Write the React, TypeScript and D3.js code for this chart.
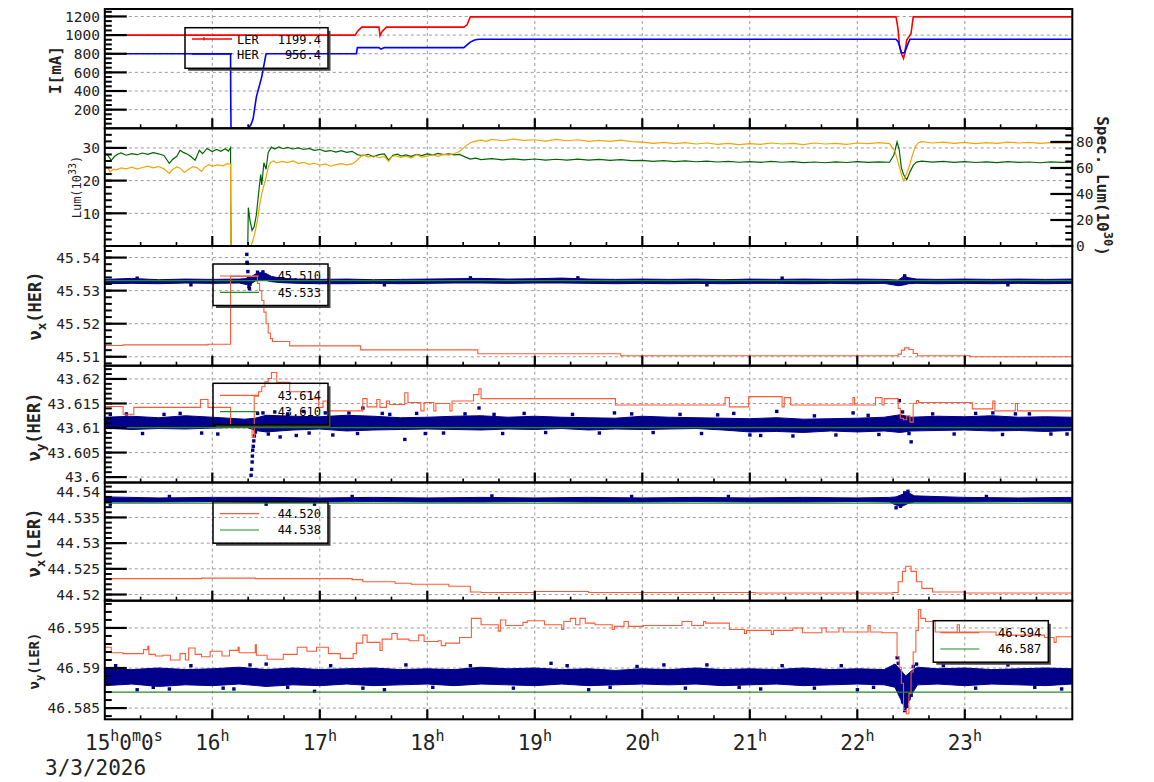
import React from 'react';
import * as d3 from 'd3';

type P = [number, number];
type B = [number, number, number];

// ---------- axes / ticks ----------
const hourTicks = [16, 17, 18, 19, 20, 21, 22, 23];
const currentTicks = [200, 400, 600, 800, 1000, 1200];
const lumTicks = [10, 20, 30];
const specLumTicks = [0, 20, 40, 60, 80];
const nuxHerTicks = [45.51, 45.52, 45.53, 45.54];
const nuyHerTicks = [43.6, 43.605, 43.61, 43.615, 43.62];
const nuxLerTicks = [44.52, 44.525, 44.53, 44.535, 44.54];
const nuyLerTicks = [46.585, 46.59, 46.595];
const dateLabel = '3/3/2026';

// ---------- panel 1 : beam currents ----------
const lerCurrent: P[] = [
  [15, 1000], [17.33, 1000], [17.35, 1040], [17.39, 1086], [17.55, 1086], [17.56, 995], [17.58, 1040], [17.62, 1086],
  [18.34, 1086], [18.37, 1110], [18.4, 1195], [22.36, 1195], [22.37, 1130], [22.38, 1054], [22.39, 911], [22.41, 803],
  [22.43, 750], [22.44, 800], [22.46, 947], [22.5, 1018], [22.52, 1195], [24, 1195],
];
const herCurrent: P[] = [
  [15, 800], [16.17, 800], [16.171, 410], [16.174, 0], [16.335, 0], [16.36, 40], [16.38, 104], [16.41, 337], [16.46, 552],
  [16.5, 800], [17.34, 800], [17.35, 866], [17.55, 866], [17.57, 850], [17.6, 866], [18.34, 866], [18.37, 895], [18.4, 925],
  [18.44, 948], [18.48, 956], [22.36, 956], [22.38, 930], [22.41, 810], [22.44, 812], [22.47, 903], [22.49, 956], [24, 956],
];
const currentLegend = [['LER', '1199.4'], ['HER', '956.4']];

// ---------- panel 2 : luminosity ----------
const lumOrange: P[] = [
  [15, 24.3], [15.03, 23.8], [15.05, 22.6], [15.08, 23.5], [15.1, 23.2], [15.15, 23.9], [15.2, 23.6], [15.25, 24.1], [15.3, 23.5],
  [15.35, 24.0], [15.4, 24.4], [15.45, 23.9], [15.5, 24.3], [15.55, 23.6], [15.6, 22.2], [15.63, 23.4], [15.67, 24.2], [15.7, 23.8],
  [15.74, 22.5], [15.78, 23.5], [15.82, 24.3], [15.86, 23.9], [15.9, 22.8], [15.93, 24.1], [15.97, 24.9], [16, 24.4], [16.05, 24.8],
  [16.1, 24.5], [16.14, 25.2], [16.17, 25.0], [16.172, 0], [16.36, 0], [16.38, 2], [16.4, 4.5], [16.42, 8], [16.44, 12.5],
  [16.46, 16], [16.48, 18.5], [16.5, 21], [16.52, 24], [16.54, 25.5], [16.57, 26.0], [16.6, 25.4], [16.65, 25.9], [16.7, 25.5],
  [16.75, 26.0], [16.8, 25.3], [16.85, 25.6], [16.9, 25.0], [16.95, 25.3], [17, 24.7], [17.05, 25.1], [17.1, 24.4], [17.15, 24.9],
  [17.2, 25.2], [17.25, 24.8], [17.3, 25.1], [17.34, 26.0], [17.37, 27.0], [17.4, 27.9], [17.45, 27.2], [17.5, 27.6], [17.55, 27.0],
  [17.6, 27.4], [17.64, 25.9], [17.67, 27.3], [17.7, 27.6], [17.75, 27.1], [17.8, 27.5], [17.85, 26.9], [17.9, 27.9], [17.95, 27.2],
  [18, 27.5], [18.05, 27.9], [18.1, 27.4], [18.15, 28.0], [18.2, 27.8], [18.25, 28.3], [18.3, 28.9], [18.35, 30.4], [18.4, 31.6],
  [18.45, 32.1], [18.5, 32.4], [18.55, 32.0], [18.6, 32.6], [18.7, 32.2], [18.8, 32.7], [18.9, 32.3], [19, 32.5], [19.1, 32.1],
  [19.2, 32.6], [19.3, 32.2], [19.4, 32.5], [19.5, 32.0], [19.6, 32.3], [19.7, 32.0], [19.8, 32.4], [19.9, 31.9], [20, 31.8],
  [20.1, 31.4], [20.2, 31.7], [20.3, 31.3], [20.4, 31.6], [20.5, 31.2], [20.6, 31.5], [20.7, 31.1], [20.8, 31.4], [20.9, 31.0],
  [21, 31.3], [21.1, 31.1], [21.2, 31.5], [21.3, 31.2], [21.4, 31.4], [21.5, 31.0], [21.6, 31.5], [21.7, 31.2], [21.8, 31.4],
  [21.9, 31.1], [22, 31.5], [22.1, 31.3], [22.2, 31.6], [22.3, 31.3], [22.35, 29.0], [22.38, 25.5], [22.41, 22.0], [22.43, 20.0],
  [22.45, 21.5], [22.48, 24.0], [22.51, 27.5], [22.54, 30.5], [22.57, 31.6], [22.6, 31.9], [22.7, 31.5], [22.8, 31.8], [22.9, 31.4],
  [23, 31.7], [23.1, 31.3], [23.2, 31.6], [23.3, 31.4], [23.4, 31.8], [23.5, 31.5], [23.6, 31.7], [23.7, 31.4], [23.8, 31.6],
  [23.9, 31.5], [24, 31.6],
];
const specLumGreen: P[] = [
  [15, 71.3], [15.03, 69.5], [15.06, 65.9], [15.09, 68.8], [15.12, 70.5], [15.15, 71.6], [15.2, 69.8], [15.25, 71.0], [15.3, 70.2],
  [15.35, 71.5], [15.4, 70.4], [15.45, 71.8], [15.5, 70.9], [15.55, 69.6], [15.6, 63.6], [15.63, 66.5], [15.67, 69.0], [15.7, 73.6],
  [15.73, 72.0], [15.77, 70.5], [15.8, 68.8], [15.84, 65.9], [15.88, 73.6], [15.91, 71.0], [15.95, 75.0], [16, 72.6], [16.04, 74.2],
  [16.08, 72.8], [16.12, 74.8], [16.15, 73.0], [16.17, 75.6], [16.171, 37.5], [16.174, 0], [16.33, 0], [16.335, 29.5], [16.35, 20],
  [16.37, 12], [16.39, 15], [16.41, 24], [16.43, 40], [16.45, 55], [16.46, 47], [16.48, 64], [16.5, 59], [16.52, 72], [16.55, 76],
  [16.58, 74.5], [16.62, 76.2], [16.66, 74.8], [16.7, 75.8], [16.75, 74.6], [16.8, 75.5], [16.85, 74.2], [16.9, 75.0], [16.95, 73.6],
  [17, 74.2], [17.05, 72.8], [17.1, 73.4], [17.15, 72.2], [17.2, 73.3], [17.25, 72.0], [17.3, 72.8], [17.35, 70.3], [17.4, 69.4],
  [17.45, 70.5], [17.5, 68.6], [17.55, 70.2], [17.6, 70.8], [17.64, 66.0], [17.68, 69.8], [17.72, 70.6], [17.76, 69.2], [17.8, 70.1],
  [17.85, 69.0], [17.9, 70.4], [17.95, 69.5], [18, 70.8], [18.05, 70.0], [18.1, 71.2], [18.15, 70.3], [18.2, 70.9], [18.25, 70.0],
  [18.3, 70.4], [18.35, 68.5], [18.4, 66.8], [18.45, 67.5], [18.5, 66.4], [18.6, 67.2], [18.7, 66.3], [18.8, 67.0], [18.9, 66.2],
  [19, 66.9], [19.1, 66.0], [19.2, 66.7], [19.3, 66.1], [19.4, 66.8], [19.5, 66.0], [19.6, 66.6], [19.7, 65.8], [19.8, 66.4],
  [19.9, 65.6], [20, 65.9], [20.1, 65.1], [20.2, 65.6], [20.3, 64.9], [20.4, 65.5], [20.5, 64.8], [20.6, 65.3], [20.7, 64.6],
  [20.8, 65.1], [20.9, 64.4], [21, 64.9], [21.1, 64.3], [21.2, 65.0], [21.3, 64.4], [21.4, 64.8], [21.5, 64.1], [21.6, 64.6],
  [21.7, 64.0], [21.8, 64.7], [21.9, 64.2], [22, 64.8], [22.1, 64.3], [22.2, 64.7], [22.3, 64.4], [22.34, 70], [22.37, 80],
  [22.39, 74], [22.41, 60], [22.43, 55], [22.46, 51], [22.49, 57], [22.52, 62], [22.55, 64.5], [22.6, 65.2], [22.7, 64.5],
  [22.8, 65.0], [22.9, 64.3], [23, 64.9], [23.1, 64.2], [23.2, 64.7], [23.3, 64.1], [23.4, 64.8], [23.5, 64.3], [23.6, 64.6],
  [23.7, 64.0], [23.8, 64.7], [23.9, 64.3], [24, 64.5],
];

// ---------- panel 3 : nu_x HER ----------
const nuxHerSet: P[] = [
  [15, 45.5134], [15.17, 45.5136], [15.96, 45.5138], [16.17, 45.5343], [16.4, 45.5343], [16.42, 45.5322], [16.44, 45.53],
  [16.46, 45.527], [16.48, 45.5235], [16.5, 45.52], [16.52, 45.5172], [16.54, 45.5155], [16.56, 45.5146], [16.72, 45.5133],
  [17.38, 45.5121], [18.47, 45.5109], [19.8, 45.5103], [22.38, 45.5108], [22.41, 45.512], [22.44, 45.5127], [22.48, 45.5122],
  [22.52, 45.511], [22.56, 45.5103], [23.05, 45.51], [24, 45.51],
];
const nuxHerRef = 45.533;
const nuxHerBand: B[] = [
  [15, 45.5321, 45.5334], [15.25, 45.5322, 45.5337], [15.5, 45.5321, 45.5333], [15.75, 45.5323, 45.5335], [16, 45.5322, 45.5334],
  [16.25, 45.5323, 45.5335], [16.34, 45.5317, 45.5337], [16.4, 45.5329, 45.535], [16.45, 45.5333, 45.5355], [16.5, 45.5331, 45.5352],
  [16.55, 45.5327, 45.5343], [16.65, 45.5324, 45.5337], [16.8, 45.5322, 45.5335], [17, 45.5321, 45.5334], [17.25, 45.5321, 45.5335],
  [17.5, 45.5322, 45.5333], [17.75, 45.5321, 45.5334], [18, 45.5322, 45.5335], [18.25, 45.5323, 45.5336], [18.5, 45.5323, 45.5337],
  [18.75, 45.5322, 45.5335], [19, 45.5323, 45.5336], [19.25, 45.5323, 45.5338], [19.5, 45.5322, 45.5335], [19.75, 45.5321, 45.5334],
  [20, 45.5322, 45.5335], [20.25, 45.5321, 45.5334], [20.5, 45.5322, 45.5335], [20.75, 45.5321, 45.5333], [21, 45.5322, 45.5335],
  [21.25, 45.5322, 45.5334], [21.5, 45.5321, 45.5335], [21.75, 45.5322, 45.5334], [22, 45.5321, 45.5335], [22.25, 45.5322, 45.5334],
  [22.38, 45.5315, 45.5332], [22.43, 45.5317, 45.5343], [22.48, 45.5321, 45.5339], [22.55, 45.5322, 45.5335], [22.75, 45.5321, 45.5334],
  [23, 45.5322, 45.5335], [23.25, 45.5321, 45.5334], [23.5, 45.5322, 45.5335], [23.75, 45.5321, 45.5334], [24, 45.5322, 45.5335],
];
const nuxHerDots: P[] = [
  [16.32, 45.541], [16.322, 45.5386], [16.325, 45.5383], [16.33, 45.5358], [16.335, 45.534], [16.34, 45.5312], [16.345, 45.5306],
  [16.35, 45.532], [16.42, 45.5356], [16.47, 45.5357], [19.4, 45.5339], [22.44, 45.5345], [15.3, 45.5338], [15.8, 45.5318],
  [17.6, 45.5318], [18.4, 45.5339], [20.6, 45.5318], [21.3, 45.5338], [23.4, 45.5318],
];

// ---------- panel 4 : nu_y HER ----------
const nuyHerSet: P[] = [
  [15, 43.6144], [15.17, 43.6128], [15.27, 43.6142], [15.89, 43.6158], [15.96, 43.6142], [16.17, 43.6103], [16.37, 43.6081],
  [16.39, 43.6165], [16.43, 43.6174], [16.46, 43.6184], [16.49, 43.6194], [16.52, 43.6201], [16.55, 43.6213], [16.6, 43.6193],
  [16.72, 43.6174], [16.92, 43.616], [16.99, 43.6142], [17.03, 43.6155], [17.07, 43.6135], [17.4, 43.616], [17.44, 43.6143],
  [17.53, 43.6158], [17.56, 43.6142], [17.62, 43.6155], [17.65, 43.6148], [17.79, 43.6172], [17.82, 43.6152], [17.94, 43.6135],
  [17.97, 43.6152], [18.06, 43.6135], [18.08, 43.615], [18.21, 43.6135], [18.23, 43.6155], [18.43, 43.6168], [18.48, 43.618],
  [18.5, 43.616], [19.75, 43.6147], [20.77, 43.6162], [20.81, 43.6143], [20.99, 43.6164], [21.3, 43.6143], [21.32, 43.6162],
  [21.38, 43.6147], [21.96, 43.6162], [21.975, 43.6147], [22.17, 43.6162], [22.23, 43.6147], [22.25, 43.616], [22.38, 43.614],
  [22.4, 43.612], [22.43, 43.6117], [22.46, 43.6125], [22.49, 43.6112], [22.52, 43.615], [22.55, 43.6156], [22.57, 43.6152],
  [23.07, 43.6139], [23.26, 43.6155], [23.28, 43.6135], [23.47, 43.615], [23.49, 43.6135], [24, 43.6135],
];
const nuyHerRef = 43.6101;
const nuyHerBand: B[] = [
  [15, 43.61, 43.6122], [15.25, 43.6097, 43.6124], [15.5, 43.6099, 43.6121], [15.75, 43.6098, 43.6125], [16, 43.61, 43.6122],
  [16.15, 43.6101, 43.612], [16.3, 43.6103, 43.6118], [16.4, 43.6095, 43.612], [16.5, 43.6092, 43.6126], [16.75, 43.6096, 43.6124],
  [17, 43.6098, 43.6123], [17.25, 43.6094, 43.6126], [17.5, 43.6096, 43.6124], [17.75, 43.6097, 43.6121], [18, 43.6098, 43.6122],
  [18.25, 43.6097, 43.6124], [18.5, 43.6096, 43.6125], [18.75, 43.6098, 43.6122], [19, 43.6097, 43.6124], [19.25, 43.6099, 43.6122],
  [19.5, 43.6096, 43.6121], [19.75, 43.6098, 43.612], [20, 43.6097, 43.6124], [20.25, 43.6098, 43.6122], [20.5, 43.6099, 43.6121],
  [20.75, 43.6096, 43.612], [21, 43.6092, 43.6119], [21.25, 43.6093, 43.6121], [21.5, 43.6091, 43.6118], [21.75, 43.6094, 43.6119],
  [22, 43.6092, 43.612], [22.25, 43.6094, 43.6122], [22.4, 43.6091, 43.6127], [22.5, 43.6094, 43.6122], [22.75, 43.6095, 43.6124],
  [23, 43.6096, 43.6123], [23.25, 43.6094, 43.6125], [23.5, 43.6095, 43.6122], [23.75, 43.6093, 43.6123], [24, 43.6095, 43.6122],
];
const nuyHerDots: P[] = [
  [15.0, 43.6091], [15.05, 43.6128], [15.55, 43.6128], [15.9, 43.609], [16.36, 43.6004], [16.365, 43.6016], [16.37, 43.6031],
  [16.372, 43.6043], [16.375, 43.6055], [16.38, 43.6063], [16.385, 43.6074], [16.39, 43.6084], [16.4, 43.6092], [16.42, 43.613],
  [16.47, 43.6131], [16.52, 43.6088], [16.58, 43.6133], [16.63, 43.6082], [16.7, 43.6129], [16.78, 43.6085], [16.85, 43.6134],
  [17.12, 43.6086], [17.27, 43.6131], [17.4, 43.6141], [17.58, 43.613], [17.79, 43.6077], [17.98, 43.6089], [18.48, 43.6141],
  [18.62, 43.6128], [19.74, 43.6131], [20.85, 43.613], [21.0, 43.6086], [21.25, 43.6134], [21.96, 43.6131], [22.39, 43.6156],
  [22.42, 43.6133], [22.46, 43.6098], [22.48, 43.6089], [22.5, 43.6072], [23.26, 43.6131], [23.47, 43.6129], [23.8, 43.6088],
  [15.2, 43.6129], [15.35, 43.6089], [15.7, 43.613], [16.05, 43.6088], [16.9, 43.609], [17.05, 43.6131], [17.35, 43.6089],
  [17.65, 43.6128], [17.9, 43.613], [18.15, 43.609], [18.35, 43.6129], [18.7, 43.6089], [18.9, 43.613], [19.1, 43.6091],
  [19.35, 43.6128], [19.6, 43.609], [19.9, 43.6129], [20.1, 43.6091], [20.35, 43.6128], [20.55, 43.6089], [20.7, 43.6127],
  [21.1, 43.6085], [21.4, 43.6084], [21.6, 43.6125], [21.8, 43.6086], [22.1, 43.6126], [22.2, 43.6087], [22.7, 43.6129],
  [22.9, 43.6088], [23.1, 43.613], [23.35, 43.6087], [23.6, 43.6129], [23.95, 43.6088],
];

// ---------- panel 5 : nu_x LER ----------
const nuxLerSet: P[] = [
  [15, 44.5231], [15.9, 44.5232], [16.4, 44.5231], [17.3, 44.5229], [17.4, 44.5225], [17.7, 44.5222], [17.85, 44.522],
  [18.2, 44.5216], [18.4, 44.5205], [18.5, 44.5204], [19.0, 44.5206], [19.5, 44.5204], [21.05, 44.5203], [22.33, 44.5204],
  [22.38, 44.5225], [22.42, 44.5245], [22.45, 44.5255], [22.5, 44.5245], [22.55, 44.5225], [22.6, 44.5212], [22.7, 44.5205],
  [23, 44.5203], [24, 44.5203],
];
const nuxLerRef = 44.5378;
const nuxLerBand: B[] = [
  [15, 44.538, 44.539], [15.5, 44.538, 44.5388], [16, 44.5381, 44.5389], [16.5, 44.538, 44.5389], [17, 44.538, 44.5388],
  [17.5, 44.5381, 44.5389], [18, 44.538, 44.5388], [18.5, 44.538, 44.5389], [19, 44.5381, 44.5388], [19.5, 44.538, 44.5389],
  [20, 44.538, 44.5388], [20.5, 44.5381, 44.5389], [21, 44.538, 44.5388], [21.5, 44.538, 44.5389], [22, 44.5381, 44.5388],
  [22.3, 44.538, 44.5389], [22.36, 44.5374, 44.539], [22.42, 44.5372, 44.5395], [22.47, 44.5377, 44.5399], [22.53, 44.538, 44.5392],
  [23, 44.538, 44.5389], [23.5, 44.5381, 44.5388], [24, 44.538, 44.5389],
];
const nuxLerDots: P[] = [
  [15.05, 44.5376], [16.5, 44.5376], [16.95, 44.5376], [18.6, 44.5392], [19.9, 44.5391], [22.36, 44.5369], [22.4, 44.5372],
  [22.44, 44.5398], [22.47, 44.5401], [15.6, 44.5391], [17.3, 44.5391], [20.8, 44.5391], [23.2, 44.5391],
];

// ---------- panel 6 : nu_y LER ----------
const nuyLerSet: P[] = [
  [15, 46.5926], [15.06, 46.5919], [15.17, 46.5918], [15.36, 46.5923], [15.4, 46.5927], [15.41, 46.5917], [15.47, 46.5915],
  [15.54, 46.5916], [15.61, 46.591], [15.7, 46.5918], [15.75, 46.591], [15.78, 46.5925], [15.84, 46.5917], [15.9, 46.5914],
  [15.98, 46.5921], [16.09, 46.5915], [16.16, 46.5922], [16.24, 46.5926], [16.25, 46.5919], [16.4, 46.5929], [16.41, 46.5916],
  [16.51, 46.5911], [16.66, 46.5917], [16.79, 46.5926], [16.88, 46.5921], [16.97, 46.5926], [17.08, 46.5918], [17.19, 46.5912],
  [17.31, 46.5918], [17.34, 46.5931], [17.4, 46.5941], [17.44, 46.5932], [17.56, 46.5922], [17.58, 46.5936], [17.67, 46.5943],
  [17.72, 46.5936], [17.83, 46.5934], [17.92, 46.5941], [17.97, 46.5933], [18.1, 46.5934], [18.13, 46.5928], [18.17, 46.5931],
  [18.3, 46.5938], [18.41, 46.5962], [18.5, 46.5954], [18.66, 46.5946], [18.68, 46.596], [18.73, 46.5953], [18.89, 46.5957],
  [18.93, 46.5959], [19.09, 46.5954], [19.25, 46.5948], [19.27, 46.5958], [19.33, 46.5962], [19.38, 46.5954], [19.42, 46.5962],
  [19.47, 46.5956], [19.56, 46.5954], [19.72, 46.5948], [19.74, 46.5952], [19.83, 46.5958], [19.87, 46.5952], [20.01, 46.5953],
  [20.37, 46.5958], [20.46, 46.5953], [20.57, 46.5958], [20.59, 46.5956], [20.81, 46.5948], [20.95, 46.5943], [20.97, 46.5947],
  [21.2, 46.5942], [21.22, 46.5947], [21.4, 46.595], [21.49, 46.5944], [21.67, 46.595], [21.71, 46.5945], [21.83, 46.595],
  [21.87, 46.5945], [22.1, 46.5953], [22.12, 46.5945], [22.23, 46.5944], [22.37, 46.5914], [22.39, 46.5901], [22.41, 46.5881],
  [22.43, 46.5847], [22.456, 46.5843], [22.48, 46.5868], [22.5, 46.5895], [22.52, 46.592], [22.545, 46.5947], [22.568, 46.5973],
  [22.59, 46.5962], [22.635, 46.5958], [22.725, 46.5945], [22.93, 46.5954], [22.95, 46.5945], [23.29, 46.5941], [23.74, 46.5938],
  [23.83, 46.5932], [23.85, 46.5939], [24, 46.5939],
];
const nuyLerRef = 46.587;
const nuyLerBand: B[] = [
  [15, 46.5878, 46.5899], [15.25, 46.588, 46.5898], [15.5, 46.5877, 46.59], [15.75, 46.5879, 46.5898], [16, 46.5878, 46.5899],
  [16.25, 46.588, 46.5901], [16.5, 46.5877, 46.5898], [16.75, 46.5879, 46.59], [17, 46.5878, 46.5898], [17.25, 46.588, 46.5899],
  [17.5, 46.5878, 46.59], [17.75, 46.5879, 46.5898], [18, 46.588, 46.5899], [18.25, 46.5878, 46.5898], [18.5, 46.588, 46.5901],
  [18.75, 46.5879, 46.5899], [19, 46.5878, 46.59], [19.25, 46.588, 46.5898], [19.5, 46.5878, 46.5899], [19.75, 46.5879, 46.5897],
  [20, 46.588, 46.5899], [20.25, 46.5879, 46.5898], [20.5, 46.588, 46.59], [20.75, 46.5878, 46.5898], [21, 46.5879, 46.5899],
  [21.25, 46.588, 46.5898], [21.5, 46.5878, 46.59], [21.75, 46.5879, 46.5898], [22, 46.588, 46.5899], [22.25, 46.5879, 46.5898],
  [22.35, 46.5876, 46.5905], [22.4, 46.5862, 46.5898], [22.45, 46.5848, 46.589], [22.5, 46.5866, 46.5896], [22.56, 46.5879, 46.5901],
  [22.75, 46.588, 46.5899], [23, 46.5878, 46.59], [23.25, 46.588, 46.5898], [23.5, 46.5879, 46.5899], [23.75, 46.5878, 46.59],
  [24, 46.588, 46.5899],
];
const nuyLerDots: P[] = [
  [15.3, 46.5873], [15.6, 46.5874], [16.2, 46.5874], [16.5, 46.5905], [16.95, 46.5871], [17.6, 46.5873], [19.15, 46.5906],
  [19.5, 46.5873], [20.2, 46.5904], [21.1, 46.5874], [22.0, 46.5873], [22.37, 46.5913], [22.38, 46.5906], [22.42, 46.5858],
  [22.44, 46.5847], [22.46, 46.5852], [22.48, 46.5862], [22.5, 46.5866], [22.52, 46.5902], [22.55, 46.5905], [23.9, 46.5874],
  [15.1, 46.5903], [15.45, 46.5876], [15.8, 46.5903], [16.1, 46.5875], [16.35, 46.5904], [16.7, 46.5876], [17.1, 46.5903],
  [17.4, 46.5875], [17.8, 46.5904], [18.05, 46.5876], [18.4, 46.5903], [18.8, 46.5875], [19.3, 46.5903], [19.7, 46.5876],
  [19.95, 46.5902], [20.4, 46.5875], [20.6, 46.5904], [20.9, 46.5876], [21.3, 46.5903], [21.6, 46.5875], [21.85, 46.5903],
  [22.15, 46.5876], [22.8, 46.5903], [23.1, 46.5875], [23.4, 46.5904], [23.65, 46.5876],
];

const tuneLegendValues = [
  ['45.510', '45.533'],
  ['43.614', '43.610'],
  ['44.520', '44.538'],
  ['46.594', '46.587'],
];

// ---------- styling ----------
const FONT = 'DejaVu Sans Mono';
const RED_I = '#ff0000';
const BLUE_I = '#0000ff';
const ORANGE = '#f0a500';
const DKGREEN = '#006400';
const TUNE_RED = '#ff5a36';
const REF_GREEN = '#1f8f1f';
const NAVY = '#00008b';

const X0 = 104.8;
const X1 = 1072.3;
const bounds = [9, 128.3, 246, 365.7, 482.5, 600.7, 719.3];

const fmt = (v: number) => String(+v.toFixed(4));

function minorTicks(domain: number[], step: number) {
  const out: number[] = [];
  const start = Math.ceil(domain[0] / step - 1e-9);
  for (let i = start; i * step <= domain[1] + 1e-12; i++) out.push(i * step);
  return out;
}

export default function App() {
  const x = d3.scaleLinear().domain([15, 24]).range([X0, X1]);
  const yI = d3.scaleLinear().domain([0, 1280]).range([bounds[1], bounds[0]]);
  const yLum = d3.scaleLinear().domain([0, 36]).range([bounds[2], bounds[1]]);
  const ySpec = d3.scaleLinear().domain([0, 90.5]).range([bounds[2], bounds[1]]);
  const yNxH = d3.scaleLinear().domain([45.5073, 45.5435]).range([bounds[3], bounds[2]]);
  const yNyH = d3.scaleLinear().domain([43.5989, 43.6227]).range([bounds[4], bounds[3]]);
  const yNxL = d3.scaleLinear().domain([44.5188, 44.5418]).range([bounds[5], bounds[4]]);
  const yNyL = d3.scaleLinear().domain([46.5836, 46.5984]).range([bounds[6], bounds[5]]);

  const lineOf = (y: d3.ScaleLinear<number, number>, curve: d3.CurveFactory = d3.curveLinear) =>
    d3.line<P>().x((d) => x(d[0])).y((d) => y(d[1])).curve(curve);
  const bandOf = (y: d3.ScaleLinear<number, number>) =>
    d3.area<B>().x((d) => x(d[0])).y0((d) => y(d[1])).y1((d) => y(d[2])).curve(d3.curveLinear);

  const minorX = minorTicks([15, 24], 1 / 3);

  const panels = [
    { y: yI, ticks: currentTicks, minor: 50 },
    { y: yLum, ticks: lumTicks, minor: 2 },
    { y: yNxH, ticks: nuxHerTicks, minor: 0.002 },
    { y: yNyH, ticks: nuyHerTicks, minor: 0.001 },
    { y: yNxL, ticks: nuxLerTicks, minor: 0.001 },
    { y: yNyL, ticks: nuyLerTicks, minor: 0.001 },
  ];

  const tunes = [
    { y: yNxH, set: nuxHerSet, ref: nuxHerRef, band: nuxHerBand, dots: nuxHerDots },
    { y: yNyH, set: nuyHerSet, ref: nuyHerRef, band: nuyHerBand, dots: nuyHerDots },
    { y: yNxL, set: nuxLerSet, ref: nuxLerRef, band: nuxLerBand, dots: nuxLerDots },
    { y: yNyL, set: nuyLerSet, ref: nuyLerRef, band: nuyLerBand, dots: nuyLerDots },
  ];
  const tuneLegendBoxes = [
    [213, 264],
    [213, 383.3],
    [213, 501.7],
    [933.3, 620.7],
  ];

  const Legend = ({ bx, by, w, h, children }: any) => (
    <g>
      <path
        d={`M${bx + w + 1.5},${by + 3} V${by + h + 1.5} H${bx + 3}`}
        fill="none"
        stroke="#444"
        strokeWidth={2}
      />
      <rect x={bx} y={by} width={w} height={h} fill="none" stroke="#000" strokeWidth={1.5} />
      {children}
    </g>
  );

  return (
    <svg
      width={1154}
      height={782}
      style={{ position: 'absolute', left: 0, top: 0, background: '#fff' }}
      fontFamily={FONT}
    >
      <defs>
        {panels.map((p, i) => (
          <clipPath id={`clip${i}`} key={i}>
            <rect x={X0} y={bounds[i]} width={X1 - X0} height={bounds[i + 1] - bounds[i]} />
          </clipPath>
        ))}
      </defs>
      <rect x={0} y={0} width={1154} height={782} fill="#fff" />

      {/* grids */}
      {panels.map((p, i) => (
        <g key={'g' + i} stroke="#9a9a9a" strokeWidth={1} strokeDasharray="3,3" fill="none">
          {p.ticks
            .filter((t) => p.y(t) > bounds[i] + 1 && p.y(t) < bounds[i + 1] - 1)
            .map((t) => (
              <line key={t} x1={X0} x2={X1} y1={p.y(t)} y2={p.y(t)} />
            ))}
          {hourTicks.map((h) => (
            <line key={'v' + h} x1={x(h)} x2={x(h)} y1={bounds[i]} y2={bounds[i + 1]} />
          ))}
        </g>
      ))}

      {/* panel 1 data */}
      <g clipPath="url(#clip0)" fill="none" strokeWidth={1.6}>
        <path d={lineOf(yI)(lerCurrent) || ''} stroke={RED_I} />
        <path d={lineOf(yI)(herCurrent) || ''} stroke={BLUE_I} />
      </g>

      {/* panel 2 data */}
      <g clipPath="url(#clip1)" fill="none" strokeWidth={1.2}>
        <path d={lineOf(ySpec)(specLumGreen) || ''} stroke={DKGREEN} />
        <path d={lineOf(yLum)(lumOrange) || ''} stroke={ORANGE} />
      </g>

      {/* tune panels data */}
      {tunes.map((t, k) => (
        <g key={'t' + k} clipPath={`url(#clip${k + 2})`}>
          <path d={bandOf(t.y)(t.band) || ''} fill={NAVY} stroke={NAVY} strokeWidth={1} />
          {t.dots.map((d, j) => (
            <rect key={j} x={x(d[0]) - 1.6} y={t.y(d[1]) - 1.6} width={3.4} height={3.4} fill={NAVY} />
          ))}
          <path d={lineOf(t.y, d3.curveStepAfter)(t.set) || ''} fill="none" stroke={TUNE_RED} strokeWidth={1.1} />
          <line x1={X0} x2={X1} y1={t.y(t.ref)} y2={t.y(t.ref)} stroke={REF_GREEN} strokeWidth={1.2} />
        </g>
      ))}

      {/* legends */}
      <Legend bx={185} by={27.7} w={143} h={40.6}>
        {currentLegend.map((r, i) => (
          <g key={r[0]}>
            <line x1={192} x2={232} y1={39 + i * 15} y2={39 + i * 15} stroke={i === 0 ? RED_I : BLUE_I} strokeWidth={1.5} />
            {i === 0 && <line x1={204} x2={204} y1={37} y2={40.5} stroke={RED_I} strokeWidth={1.2} />}
            <text x={237} y={43.5 + i * 15.5} fontSize={12} fill="#000">
              {r[0]}
            </text>
            <text x={321} y={43.5 + i * 15.5} fontSize={12} fill="#000" textAnchor="end">
              {r[1]}
            </text>
          </g>
        ))}
      </Legend>
      {tuneLegendValues.map((vals, k) => {
        const [bx, by] = tuneLegendBoxes[k];
        return (
          <Legend key={'lg' + k} bx={bx} by={by} w={115} h={41.5}>
            {vals.map((v, i) => (
              <g key={i}>
                <line
                  x1={bx + 7}
                  x2={bx + 46}
                  y1={by + 12 + i * 16.3}
                  y2={by + 12 + i * 16.3}
                  stroke={i === 0 ? TUNE_RED : REF_GREEN}
                  strokeWidth={1.2}
                />
                <text x={bx + 108} y={by + 16.3 + i * 16.3} fontSize={12} textAnchor="end" fill="#000">
                  {v}
                </text>
              </g>
            ))}
          </Legend>
        );
      })}

      {/* frames, ticks, labels */}
      {panels.map((p, i) => {
        const top = bounds[i];
        const bot = bounds[i + 1];
        const dom = p.y.domain();
        return (
          <g key={'f' + i}>
            {minorTicks(dom, p.minor)
              .filter((t) => p.y(t) > top + 0.5 && p.y(t) < bot - 0.5)
              .map((t, j) => (
                <line key={j} x1={X0} x2={X0 + 7} y1={p.y(t)} y2={p.y(t)} stroke="#000" strokeWidth={2} />
              ))}
            {p.ticks.map((t) => (
              <line key={'M' + t} x1={X0} x2={X0 + 22} y1={p.y(t)} y2={p.y(t)} stroke="#000" strokeWidth={2.2} />
            ))}
            {p.ticks.map((t) => (
              <text key={'L' + t} x={100} y={p.y(t)} dy="0.36em" fontSize={14.5} textAnchor="end" fill="#222">
                {fmt(t)}
              </text>
            ))}
            {minorX
              .filter((h) => h > 15.01 && h < 23.99)
              .map((h, j) => {
                const major = Math.abs(h - Math.round(h)) < 1e-6;
                return (
                  <line
                    key={'x' + j}
                    x1={x(h)}
                    x2={x(h)}
                    y1={bot}
                    y2={bot - (major ? 10 : 4)}
                    stroke="#000"
                    strokeWidth={major ? 2.2 : 1.6}
                  />
                );
              })}
            <rect x={X0} y={top} width={X1 - X0} height={bot - top} fill="none" stroke="#000" strokeWidth={2} />
          </g>
        );
      })}

      {/* right axis of panel 2 */}
      <g>
        {minorTicks(ySpec.domain(), 5)
          .filter((t) => ySpec(t) > bounds[1] + 0.5 && ySpec(t) < bounds[2] - 0.5)
          .map((t, j) => (
            <line key={j} x1={X1} x2={X1 - 7} y1={ySpec(t)} y2={ySpec(t)} stroke="#000" strokeWidth={2} />
          ))}
        {specLumTicks.map((t) => (
          <g key={t}>
            <line x1={X1} x2={X1 - 22} y1={ySpec(t)} y2={ySpec(t)} stroke="#000" strokeWidth={2.2} />
            <text x={1076} y={ySpec(t)} dy="0.36em" fontSize={14.5} fill="#222">
              {fmt(t)}
            </text>
          </g>
        ))}
      </g>

      {/* axis titles */}
      <text transform="translate(61,70) rotate(-90)" textAnchor="middle" fontSize={16} fontWeight="bold" fill="#222">
        I[mA]
      </text>
      <text transform="translate(81,187) rotate(-90)" textAnchor="middle" fontSize={12} fill="#222">
        Lum(10<tspan dy="-5" fontSize={10}>33</tspan>
        <tspan dy="5">)</tspan>
      </text>
      <text transform="translate(1097,186) rotate(90)" textAnchor="middle" fontSize={16} fontWeight="bold" fill="#222">
        Spec. Lum(10<tspan dy="-7" fontSize={12}>30</tspan>
        <tspan dy="7">)</tspan>
      </text>
      {[
        ['x', 'HER', 306, 41, 17],
        ['y', 'HER', 427, 40, 17],
        ['x', 'LER', 543, 40, 17],
        ['y', 'LER', 661, 39, 14],
      ].map(([sub, ring, cy, bx, fs]: any) => (
        <text
          key={sub + ring}
          transform={`translate(${bx},${cy}) rotate(-90)`}
          textAnchor="middle"
          fontSize={fs}
          fontWeight="bold"
          fill="#222"
        >
          ν<tspan dy={fs * 0.3} fontSize={fs * 0.75}>{sub}</tspan>
          <tspan dy={-fs * 0.3}>({ring})</tspan>
        </text>
      ))}

      {/* x tick labels */}
      <text x={85} y={750} fontSize={21} fill="#222">
        15<tspan dy={-9} fontSize={15}>h</tspan>
        <tspan dy={9}>0</tspan>
        <tspan dy={-9} fontSize={15}>m</tspan>
        <tspan dy={9}>0</tspan>
        <tspan dy={-9} fontSize={15}>s</tspan>
      </text>
      {hourTicks.map((h) => (
        <text key={h} x={x(h)} y={750} fontSize={21} textAnchor="middle" fill="#222">
          {h}
          <tspan dy={-9} fontSize={15}>h</tspan>
        </text>
      ))}
      <text x={45} y={775} fontSize={21} fill="#222">
        {dateLabel}
      </text>
    </svg>
  );
}
